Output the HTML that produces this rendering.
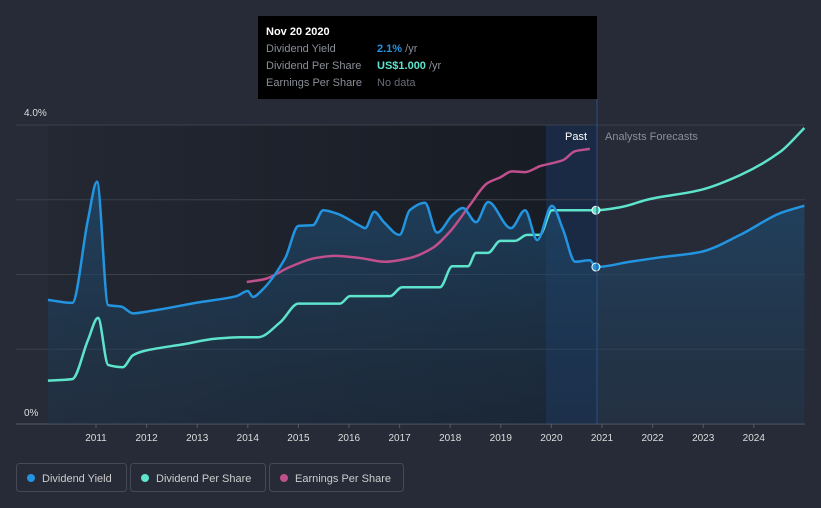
<!DOCTYPE html>
<html><head><meta charset="utf-8"><style>
body{margin:0;background:#262b37;font-family:"Liberation Sans",sans-serif;}
svg{display:block}
</style></head><body>
<svg id="chart" width="821" height="508">
<defs>
<linearGradient id="pastG" x1="0" x2="1" y1="0" y2="0"><stop offset="0" stop-color="#232833"/><stop offset="1" stop-color="#181c24"/></linearGradient>
<linearGradient id="areaG" x1="0" x2="0" y1="0" y2="1"><stop offset="0" stop-color="#1f4a6e" stop-opacity="0.75"/><stop offset="1" stop-color="#1f3a55" stop-opacity="0.35"/></linearGradient>
</defs>
<rect width="821" height="508" fill="#262b37"/>
<rect x="48" y="125" width="498" height="299" fill="url(#pastG)"/>
<rect x="546" y="125" width="51" height="299" fill="#1a2a45"/>
<g id="grid"></g>
<g id="marks"></g>
<line x1="597" x2="597" y1="99" y2="424" stroke="#2d4f80" stroke-width="1"/>
<text x="565" y="140" fill="#fff" font-size="11">Past</text>
<text x="605" y="140" fill="#8a8f99" font-size="11">Analysts Forecasts</text>
<text x="24" y="116" fill="#ddd" font-size="10">4.0%</text>
<text x="24" y="416" fill="#ddd" font-size="10">0%</text>
<g id="xt"></g>
<g>
<rect x="258" y="16" width="339" height="83" fill="#000"/>
<text x="266" y="35" fill="#fff" font-size="11" font-weight="bold">Nov 20 2020</text>
<text x="266" y="52" fill="#8a8f99" font-size="11">Dividend Yield</text>
<text x="377" y="52" fill="#2394e0" font-size="11" font-weight="bold">2.1%<tspan fill="#8a8f99" font-weight="normal"> /yr</tspan></text>
<text x="266" y="69" fill="#8a8f99" font-size="11">Dividend Per Share</text>
<text x="377" y="69" fill="#5ee3cc" font-size="11" font-weight="bold">US$1.000<tspan fill="#8a8f99" font-weight="normal"> /yr</tspan></text>
<text x="266" y="86" fill="#8a8f99" font-size="11">Earnings Per Share</text>
<text x="377" y="86" fill="#666b75" font-size="11">No data</text>
</g>
<g>
<g><rect x="16.5" y="463.5" width="110" height="28" rx="3" fill="none" stroke="#444a57"/><circle cx="31" cy="478" r="4" fill="#2394e0"/><text x="42" y="482" fill="#ccc" font-size="11">Dividend Yield</text></g>
<g><rect x="130.5" y="463.5" width="135" height="28" rx="3" fill="none" stroke="#444a57"/><circle cx="145" cy="478" r="4" fill="#5ee3cc"/><text x="156" y="482" fill="#ccc" font-size="11">Dividend Per Share</text></g>
<g><rect x="269.5" y="463.5" width="134" height="28" rx="3" fill="none" stroke="#444a57"/><circle cx="284" cy="478" r="4" fill="#c0508c"/><text x="295" y="482" fill="#ccc" font-size="11">Earnings Per Share</text></g>
</g>
</svg>
<script>
const yieldYears=[2010.05,2010.53,2010.84,2011.02,2011.24,2011.5,2011.73,2011.97,2013.06,2013.77,2014.0,2014.1,2014.28,2014.74,2015.0,2015.29,2015.49,2015.78,2016.22,2016.32,2016.5,2016.69,2017.0,2017.2,2017.5,2017.74,2018.05,2018.25,2018.51,2018.75,2019.2,2019.48,2019.72,2020.01,2020.23,2020.47,2020.76,2020.88,2021.55,2022.15,2022.94,2023.73,2024.52,2025.0];
const yieldValues=[1.66,1.62,2.73,3.24,1.59,1.57,1.48,1.50,1.63,1.71,1.78,1.70,1.79,2.22,2.65,2.66,2.86,2.81,2.65,2.62,2.84,2.70,2.53,2.86,2.96,2.56,2.80,2.89,2.70,2.97,2.62,2.86,2.46,2.92,2.60,2.17,2.19,2.10,2.17,2.23,2.30,2.53,2.82,2.92];
const dpsYears=[2010.05,2010.53,2010.84,2011.04,2011.24,2011.53,2011.73,2011.97,2012.76,2013.35,2013.85,2014.2,2014.64,2015.0,2015.82,2016.02,2016.81,2017.05,2017.8,2018.04,2018.35,2018.51,2018.75,2018.99,2019.28,2019.52,2019.77,2020.01,2020.88,2021.36,2021.95,2022.94,2023.73,2024.52,2025.0];
const dpsValues=[0.58,0.60,1.12,1.42,0.79,0.76,0.92,0.98,1.07,1.14,1.16,1.16,1.36,1.61,1.61,1.71,1.71,1.83,1.83,2.11,2.11,2.29,2.29,2.45,2.45,2.53,2.53,2.86,2.86,2.90,3.01,3.13,3.33,3.64,3.96];
const epsYears=[2013.98,2014.34,2014.83,2015.33,2015.72,2016.22,2016.71,2017.2,2017.64,2017.99,2018.39,2018.73,2018.99,2019.22,2019.48,2019.78,2020.23,2020.47,2020.76];
const epsValues=[1.90,1.94,2.10,2.22,2.25,2.22,2.17,2.22,2.35,2.57,2.93,3.22,3.30,3.38,3.37,3.45,3.53,3.65,3.68];
const tickYears=[2011,2012,2013,2014,2015,2016,2017,2018,2019,2020,2021,2022,2023,2024];
const gridValues=[0,1,2,3,4];
const cursorYear=2020.88;
const X=y=>96+(y-2011)*50.6, Y=v=>424-v*74.75;
const NS="http://www.w3.org/2000/svg";
function el(t,a,p){const e=document.createElementNS(NS,t);for(const k in a)e.setAttribute(k,a[k]);p.appendChild(e);return e;}
function path(xs,vs){const p=xs.map((x,i)=>[X(x),Y(vs[i])]);const n=p.length;
const d=[],m=[];for(let i=0;i<n-1;i++)d.push((p[i+1][1]-p[i][1])/(p[i+1][0]-p[i][0]));
for(let i=0;i<n;i++){if(i===0)m.push(d[0]);else if(i===n-1)m.push(d[n-2]);else if(d[i-1]*d[i]<=0)m.push(0);else{m.push(2/(1/d[i-1]+1/d[i]));}}
let s=`M${p[0][0]},${p[0][1]}`;
for(let i=0;i<n-1;i++){const h=(p[i+1][0]-p[i][0])/3;s+=`C${p[i][0]+h},${p[i][1]+m[i]*h} ${p[i+1][0]-h},${p[i+1][1]-m[i+1]*h} ${p[i+1][0]},${p[i+1][1]}`;}return s;}
const grid=document.getElementById('grid');
gridValues.forEach(v=>{const l=el('line',{x1:16,x2:805,y1:Y(v),y2:Y(v),stroke:v===0?'#555b66':'#3a404c','stroke-width':1},grid);

});
const xt=document.getElementById('xt');
tickYears.forEach(y=>{const t=el('text',{x:X(y),y:441,fill:'#ddd','font-size':10,'text-anchor':'middle'},xt);t.textContent=y;


el('line',{x1:X(y),x2:X(y),y1:424,y2:428,stroke:'#555b66'},xt);});
const m=document.getElementById('marks');
const yd=path(yieldYears,yieldValues);
const area=el('path',{d:yd+`L${X(yieldYears[yieldYears.length-1])},424L${X(yieldYears[0])},424Z`,fill:'url(#areaG)'},m);


const lines=[[dpsYears,dpsValues,'#5ee3cc','dps-line'],[epsYears,epsValues,'#c0508c','eps-line'],[yieldYears,yieldValues,'#2394e0','yield-line']];
lines.forEach(([xs,vs,c,n])=>{const p=el('path',{d:path(xs,vs),fill:'none',stroke:c,'stroke-width':2.5},m);

});
function interp(xs,vs,x){for(let i=0;i<xs.length-1;i++)if(x>=xs[i]&&x<=xs[i+1])return vs[i]+(vs[i+1]-vs[i])*(x-xs[i])/(xs[i+1]-xs[i]);return vs[vs.length-1];}
[[dpsYears,dpsValues,'#5ee3cc','dps-marker'],[yieldYears,yieldValues,'#2394e0','yield-marker']].forEach(([xs,vs,c,n])=>{
const d=el('circle',{cx:X(cursorYear),cy:Y(interp(xs,vs,cursorYear)),r:4,fill:c,stroke:'#fff','stroke-width':1},m);

});
</script>
</body></html>
